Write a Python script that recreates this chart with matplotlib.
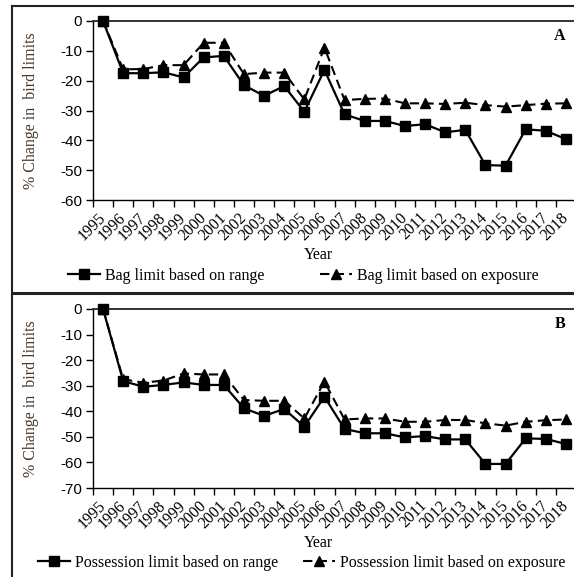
import numpy as np
import matplotlib
matplotlib.use("Agg")
import matplotlib.pyplot as plt
from matplotlib.lines import Line2D

years = [str(y) for y in range(1995, 2019)]
bag_range = [0, -17.5, -17.5, -17.2, -18.9, -12.2, -11.7, -21.5, -25.1, -21.8, -30.4, -16.4,
             -31.3, -33.5, -33.5, -35.2, -34.6, -37.3, -36.5, -48.3, -48.5, -36.3, -36.8, -39.6]
bag_exposure = [0, -16.2, -16.1, -14.8, -14.8, -7.3, -7.3, -17.8, -17.3, -17.3, -26.3, -8.9,
                -26.5, -26.1, -26.0, -27.6, -27.6, -27.8, -27.4, -28.2, -28.7, -28.2, -27.7, -27.6]
poss_range = [0, -28.2, -30.4, -29.7, -28.7, -29.7, -29.7, -38.8, -41.8, -39.1, -46.0, -34.3,
              -46.9, -48.6, -48.6, -50.2, -49.7, -51.0, -51.0, -60.6, -60.6, -50.6, -50.8, -52.8]
poss_exposure = [0, -27.5, -28.8, -28.0, -25.2, -25.6, -25.6, -35.6, -35.9, -35.9, -42.8, -28.4,
                 -43.2, -42.8, -42.8, -44.1, -44.1, -43.4, -43.4, -44.7, -45.6, -44.1, -43.5, -43.2]

SERIF = "Liberation Serif"
SANS = "Liberation Sans"
W, H = 574, 577
fig = plt.figure(figsize=(W / 100, H / 100), dpi=100)


def fx(px):
    return px / W


def fy(py):
    return 1 - py / H


def panel(top_px, bottom_px, rng, exp, ymin, letter, lab_r, lab_e, leg_y, year_y, leg1_x, leg2_x):
    ax = fig.add_axes([fx(93), fy(bottom_px), fx(576) - fx(93), (bottom_px - top_px) / H])
    x = np.arange(len(years))
    ax.plot(x, rng, color="black", lw=1.6, marker="s", ms=6.5, mfc="black", mec="black",
            label=lab_r, zorder=4, clip_on=False)
    ax.plot(x, exp, color="black", lw=1.5, ls=(0, (4.5, 2.5)), marker="^", ms=6.5,
            mfc="black", mec="black", label=lab_e, zorder=3, clip_on=False)
    ax.set_xlim(-0.5, len(years) - 0.5)
    ax.set_ylim(ymin, 0)
    ax.set_yticks(np.arange(ymin, 1, 10))
    ax.set_yticklabels([f"{int(v)}" for v in np.arange(ymin, 1, 10)], fontfamily=SANS, fontsize=11)
    ax.tick_params(axis="y", direction="out", length=5, width=1, pad=3)
    ax.set_xticks(np.arange(-0.5, len(years)), labels=[])
    ax.tick_params(axis="x", which="major", direction="out", length=5, width=1)
    ax.set_xticks(x, minor=True)
    ax.set_xticklabels(years, minor=True, rotation=45, ha="right", va="center",
                       rotation_mode="anchor", fontfamily=SERIF, fontsize=11.5)
    ax.tick_params(axis="x", which="minor", length=0, pad=11)
    ax.spines["right"].set_visible(False)
    ax.spines["top"].set_color("#333333")
    ax.spines["top"].set_linewidth(1.4)
    ax.spines["left"].set_linewidth(1.0)
    ax.spines["bottom"].set_linewidth(1.0)
    fig.text(fx(31), fy((top_px + bottom_px) / 2), "% Change in  bird limits", rotation=90,
             ha="center", va="center", fontfamily=SERIF, fontsize=11.5, color="#4a3a2e")
    fig.text(fx(318), fy(year_y), "Year", ha="center", va="center", fontfamily=SERIF, fontsize=11.5)
    fig.text(fx(560), fy(top_px + 15), letter, ha="center", va="center", fontfamily=SERIF,
             fontsize=11.5, fontweight="bold")
    h1, h2 = ax.get_legend_handles_labels()[0]
    for h, lab, lx in ((h1, lab_r, leg1_x), (h2, lab_e, leg2_x)):
        fig.legend([h], [lab], loc="center left", bbox_to_anchor=(fx(lx), fy(leg_y)),
                   frameon=False, borderpad=0, borderaxespad=0, handlelength=2.0,
                   handletextpad=0.3, prop={"family": SERIF, "size": 11.5})
    return ax


panel(21, 200, bag_range, bag_exposure, -60, "A",
      "Bag limit based on range", "Bag limit based on exposure", 276, 255, 68, 320)
panel(309, 488, poss_range, poss_exposure, -70, "B",
      "Possession limit based on range", "Possession limit based on exposure", 563, 543, 38, 303)

fig.add_artist(Line2D([fx(12), fx(W)], [fy(6), fy(6)], color="#222222", lw=1.5))
fig.add_artist(Line2D([fx(12), fx(12)], [fy(6), fy(H)], color="#222222", lw=1.5))
fig.add_artist(Line2D([fx(12), fx(W)], [fy(293), fy(293)], color="#222222", lw=2.2))

fig.savefig("out.png", dpi=100)
